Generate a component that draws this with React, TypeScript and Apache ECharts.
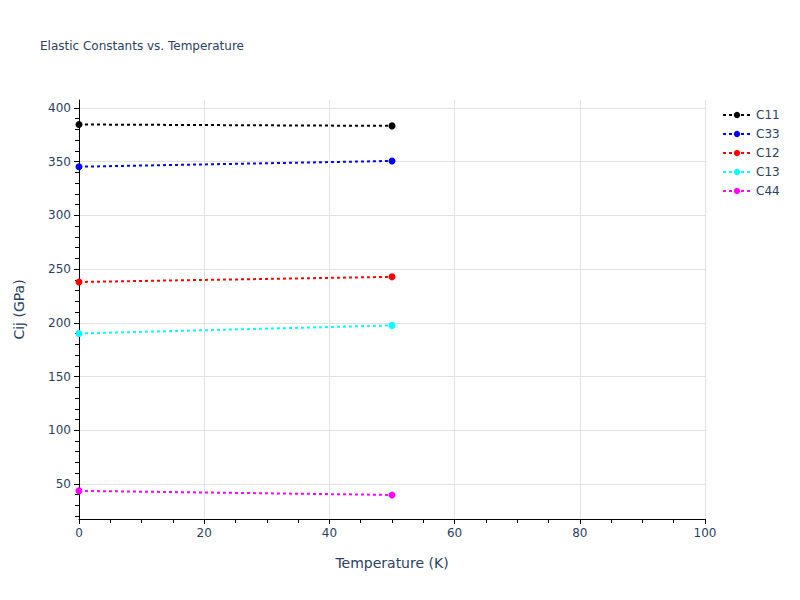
import React, { useEffect, useRef } from "react";
import * as echarts from "echarts";

const temperatures = [0, 50];
const seriesNames = ["C11", "C33", "C12", "C13", "C44"];
const seriesColors = ["#000000", "#0000ff", "#ff0000", "#00ffff", "#ff00ff"];
const c11 = [384.6, 383.3];
const c33 = [345.3, 350.7];
const c12 = [238.0, 242.8];
const c13 = [190.1, 197.6];
const c44 = [43.6, 39.8];
const seriesValues = [c11, c33, c12, c13, c44];
const yMajorTicks = [50, 100, 150, 200, 250, 300, 350, 400];
const yMinorTicks = [20, 30, 40, 60, 70, 80, 90, 110, 120, 130, 140, 160, 170, 180, 190, 210, 220, 230, 240, 260, 270, 280, 290, 310, 320, 330, 340, 360, 370, 380, 390];

const FONT = '"DejaVu Sans", Verdana, sans-serif';
const TXT = "#2a3f5f";

export default function App() {
  const ref = useRef<HTMLDivElement>(null);
  useEffect(() => {
    if (!ref.current) return;
    const chart = echarts.init(ref.current, undefined, { renderer: "svg" });
    chart.setOption({
      animation: false,
      backgroundColor: "#ffffff",
      textStyle: { fontFamily: FONT },
      title: {
        text: "Elastic Constants vs. Temperature",
        left: 35,
        top: 35,
        textStyle: { fontFamily: FONT, fontSize: 12, fontWeight: "normal", color: TXT },
      },
      legend: {
        orient: "vertical",
        left: 717,
        top: 104,
        itemWidth: 28,
        itemHeight: 8,
        itemGap: 7,
        textStyle: { fontFamily: FONT, fontSize: 12, color: TXT },
        data: seriesNames,
      },
      grid: { left: 79, right: 95, top: 100, bottom: 81, containLabel: false },
      xAxis: {
        type: "value",
        min: 0,
        max: 100,
        interval: 20,
        name: "Temperature (K)",
        nameLocation: "middle",
        nameGap: 37,
        nameTextStyle: { fontFamily: FONT, fontSize: 14, color: TXT },
        axisLine: { show: true, onZero: false, lineStyle: { color: "#000", width: 1 } },
        axisTick: { show: true, length: 5, lineStyle: { color: "#000" } },
        minorTick: { show: true, splitNumber: 4, length: 4, lineStyle: { color: "#000" } },
        axisLabel: { fontFamily: FONT, fontSize: 12, color: TXT, margin: 8 },
        splitLine: { show: true, lineStyle: { color: "#e2e2e2", width: 1 } },
      },
      yAxis: [
        {
          type: "value",
          min: 17.4,
          max: 407.4,
          position: "left",
          name: "Cij (GPa)",
          nameLocation: "middle",
          nameGap: 53,
          nameTextStyle: { fontFamily: FONT, fontSize: 14, color: TXT },
          axisLine: { show: true, onZero: false, lineStyle: { color: "#000", width: 1 } },
          axisTick: { show: true, length: 5, customValues: yMajorTicks, lineStyle: { color: "#000" } },
          axisLabel: { fontFamily: FONT, fontSize: 12, color: TXT, margin: 8, customValues: yMajorTicks },
          splitLine: { show: true, lineStyle: { color: "#e2e2e2", width: 1 } },
        },
        {
          type: "value",
          min: 17.4,
          max: 407.4,
          position: "left",
          offset: 0,
          axisLine: { show: false },
          axisTick: { show: true, length: 4, customValues: yMinorTicks, lineStyle: { color: "#000" } },
          axisLabel: { show: false, customValues: yMinorTicks },
          splitLine: { show: false },
        },
      ],
      series: seriesNames.map((name, i) => ({
        name,
        type: "line",
        yAxisIndex: 0,
        data: temperatures.map((t, j) => [t, seriesValues[i][j]]),
        symbol: "circle",
        symbolSize: 7,
        showSymbol: true,
        color: seriesColors[i],
        itemStyle: { color: seriesColors[i] },
        lineStyle: { color: seriesColors[i], width: 2, type: [3, 3] },
      })),
    });
    return () => chart.dispose();
  }, []);
  return (
    <div
      ref={ref}
      style={{ position: "absolute", left: 0, top: 0, width: 800, height: 600 }}
    />
  );
}
